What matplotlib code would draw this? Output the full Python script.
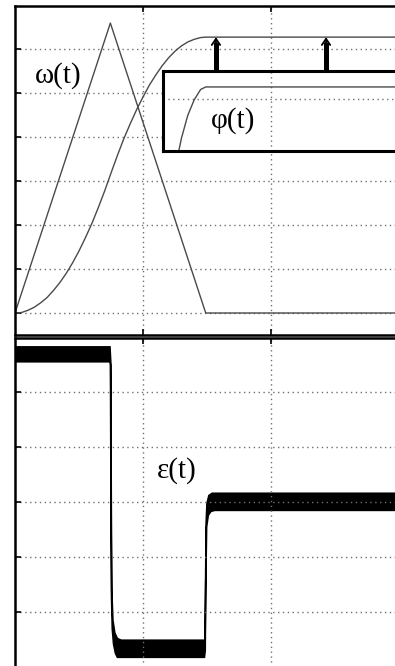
import numpy as np
import matplotlib
matplotlib.use('Agg')
import matplotlib.pyplot as plt

# ---- data (time in grid divisions) ----
omega_t = [0.0, 0.745, 1.49, 3.2]
omega_v = [0.0, 6.59, 0.0, 0.0]

phi_t = [0.0, 0.05, 0.10, 0.15, 0.20, 0.25, 0.30, 0.35, 0.40, 0.45, 0.50,
         0.55, 0.60, 0.65, 0.70, 0.75, 0.80, 0.85, 0.90, 0.95, 1.00, 1.05,
         1.10, 1.15, 1.20, 1.25, 1.30, 1.35, 1.40, 1.45, 1.49, 3.2]
phi_v = [0.0, 0.01, 0.06, 0.13, 0.23, 0.35, 0.51, 0.69, 0.90, 1.14, 1.41,
         1.71, 2.03, 2.39, 2.77, 3.18, 3.58, 3.96, 4.30, 4.62, 4.91, 5.18,
         5.41, 5.62, 5.80, 5.95, 6.07, 6.16, 6.22, 6.26, 6.27, 6.27]

# eps(t) is a noisy band: upper and lower envelope
eps_up_t = [0.0, 0.742, 0.748, 0.752, 0.756, 0.765, 0.78, 0.80, 0.83,
            1.485, 1.489, 1.493, 1.50, 1.515, 1.54, 3.2]
eps_up_v = [5.82, 5.82, 5.55, 3.0, 1.4, 0.85, 0.62, 0.52, 0.49,
            0.49, 1.5, 2.6, 2.98, 3.12, 3.16, 3.16]
eps_lo_t = [0.0, 0.742, 0.746, 0.750, 0.754, 0.760, 0.770, 0.785, 0.80,
            1.480, 1.486, 1.490, 1.497, 1.51, 1.53, 1.56, 3.2]
eps_lo_v = [5.55, 5.55, 5.5, 3.0, 1.3, 0.7, 0.42, 0.25, 0.18,
            0.18, 0.3, 1.5, 2.55, 2.76, 2.83, 2.85, 2.85]

arrow_t = [1.57, 2.43]
arrow_from, arrow_to = 5.5, 6.27

W, H = 395, 666
TRACE = '#4a4a4a'
GRID = '#707070'
SERIF = ['Liberation Serif', 'DejaVu Serif']


def px_axes(fig, left, top, right, bottom):
    return fig.add_axes([left / W, (H - bottom) / H, (right - left) / W, (bottom - top) / H])


def style(ax, yticks):
    ax.set_xticks([1, 2, 3])
    ax.set_yticks(yticks)
    ax.grid(True, color=GRID, linestyle=(0, (1, 2.5)), linewidth=1.0)
    ax.tick_params(direction='in', length=4, width=1.2, labelleft=False, labelbottom=False,
                   top=True, right=False)
    for s in ax.spines.values():
        s.set_linewidth(1.8)
        s.set_color('black')


fig = plt.figure(figsize=(W / 100, H / 100), dpi=100)
fig.patch.set_facecolor('white')

# top panel: omega and phi
ax1 = px_axes(fig, 15, 6, 420, 335)
ax1.set_xlim(0, 405 / 128)
ax1.set_ylim(-0.5, 307 / 44)
style(ax1, [0, 1, 2, 3, 4, 5, 6])
ax1.plot(omega_t, omega_v, color=TRACE, lw=1.0)
ax1.plot(phi_t, phi_v, color=TRACE, lw=1.0)
ax1.text(0.335, 5.4, 'ω(t)', family=SERIF, fontsize=21, ha='center', va='center')

for t in arrow_t:
    ax1.plot([t, t], [arrow_from, arrow_to - 0.12], color='black', lw=3.6, solid_capstyle='butt')
    ax1.annotate('', xy=(t, arrow_to), xytext=(t, arrow_to - 0.3),
                 arrowprops=dict(arrowstyle='->,head_length=0.45,head_width=0.3',
                                 color='black', lw=1.3, shrinkA=0, shrinkB=0))

# inset: zoom on the end of phi
axi = px_axes(fig, 163, 71, 420, 151)
axi.set_xlim((163 - 15) / 128, 405 / 128)
axi.set_ylim(6.021, 6.332)
axi.set_facecolor('white')
axi.set_xticks([2])
axi.set_yticks([6.223])
axi.grid(True, color=GRID, linestyle=(0, (1, 2.5)), linewidth=1.0)
axi.tick_params(length=0, labelleft=False, labelbottom=False)
for s in axi.spines.values():
    s.set_linewidth(2.2)
axi.plot(phi_t, phi_v, color=TRACE, lw=1.0)
axi.text(1.70, 6.14, 'φ(t)', family=SERIF, fontsize=21, ha='center', va='center')

# bottom panel: epsilon
ax2 = px_axes(fig, 15, 337.5, 420, 676)
ax2.set_xlim(0, 405 / 128)
ax2.set_ylim(-0.16, 329.5 / 55)
style(ax2, [1, 2, 3, 4, 5])
ax2.spines['bottom'].set_visible(False)
poly_t = np.concatenate([eps_up_t, eps_lo_t[::-1]])
poly_v = np.concatenate([eps_up_v, eps_lo_v[::-1]])
ax2.fill(poly_t, poly_v, facecolor='black', edgecolor='black', lw=1.2)
ax2.text(1.265, 3.57, 'ε(t)', family=SERIF, fontsize=21, ha='center', va='center')

fig.savefig('out.png', dpi=100)
